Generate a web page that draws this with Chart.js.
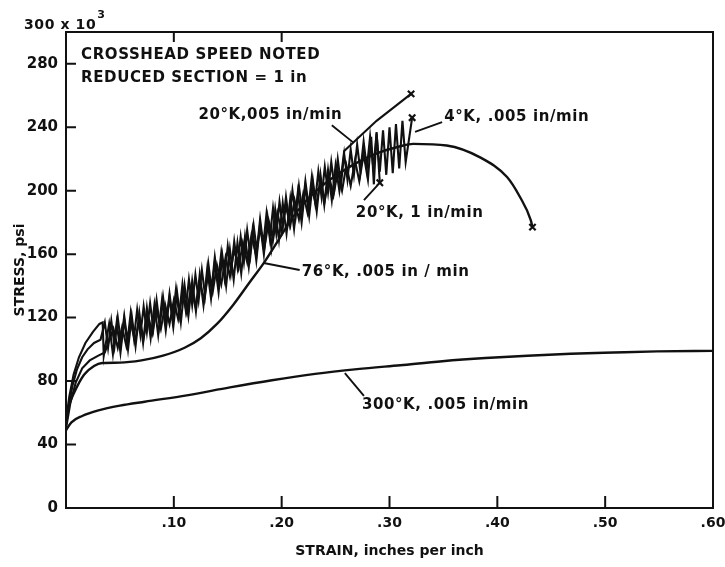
<!DOCTYPE html>
<html><head><meta charset="utf-8">
<script src="https://cdn.jsdelivr.net/npm/chart.js@4.4.0/dist/chart.umd.min.js"></script>
<style>html,body{margin:0;padding:0;background:#fff}#wrap{width:725px;height:567px}</style>
</head><body><div id="wrap"><canvas id="c" width="725" height="567"></canvas></div>
<script>
// ---------------- DATA ----------------
const xTickValues = [0, 0.1, 0.2, 0.3, 0.4, 0.5, 0.6];
const xTickLabels = ['', '.10', '.20', '.30', '.40', '.50', '.60'];
const topTickValues = [0.1, 0.2];
const yTickValues = [0, 40, 80, 120, 160, 200, 240, 280];
const yTickLabels = ['0', '40', '80', '120', '160', '200', '240', '280'];

// 300 K, .005 in/min
const k300Strain = [0, 0.005, 0.015, 0.03, 0.05, 0.073, 0.112, 0.152, 0.191, 0.231, 0.27, 0.31, 0.349, 0.389, 0.428, 0.468, 0.508, 0.548, 0.6];
const k300Stress = [49, 54, 58, 61.5, 64.5, 67, 71, 76, 80.5, 84.5, 87.5, 90, 92.5, 94.5, 96, 97.2, 98, 98.7, 99];

// 76 K, .005 in/min
const k76Strain = [0, 0.003, 0.0074, 0.0167, 0.026, 0.0335, 0.05, 0.07, 0.09, 0.11, 0.125, 0.14, 0.155, 0.17, 0.184, 0.198, 0.21, 0.226, 0.245, 0.263, 0.2865, 0.31, 0.322, 0.353, 0.384, 0.409, 0.421, 0.431, 0.4326];
const k76Stress = [55.5, 65, 72.5, 84, 89.5, 91.4, 91.6, 93, 96, 101, 107, 116, 128, 142, 155, 170, 183, 196, 207, 215, 223, 228, 229.5, 228.5, 221, 208.6, 196, 181.5, 177];

// 4 K, .005 in/min (serrated)
const k4Strain = [0, 0.003, 0.006, 0.010, 0.015, 0.020, 0.026, 0.032,
  0.036, 0.039, 0.042, 0.045, 0.048, 0.051, 0.054, 0.057, 0.060, 0.063, 0.066, 0.069,
  0.072, 0.075, 0.078, 0.081, 0.084, 0.087, 0.090, 0.093, 0.096, 0.099, 0.102, 0.105,
  0.108, 0.111, 0.114, 0.117, 0.120, 0.123, 0.126, 0.129, 0.132, 0.135, 0.138, 0.141,
  0.144, 0.147, 0.150, 0.153, 0.156, 0.159, 0.162, 0.165, 0.168, 0.171, 0.174, 0.177,
  0.180, 0.183, 0.186, 0.189, 0.192, 0.195, 0.198, 0.201, 0.204, 0.207, 0.210, 0.213,
  0.216, 0.219, 0.222, 0.225, 0.228, 0.231, 0.234, 0.237, 0.240, 0.243, 0.246, 0.249,
  0.252, 0.255, 0.258, 0.261, 0.264, 0.267, 0.270, 0.273, 0.276, 0.279, 0.282, 0.285,
  0.288, 0.291, 0.294, 0.297, 0.300, 0.303, 0.306, 0.309, 0.312, 0.315, 0.321];
const k4Stress = [52, 66, 77, 87, 95, 100, 104, 106,
  117, 101, 118, 102, 120, 104, 121, 105, 123, 107, 125, 109,
  127, 111, 129, 113, 131, 115, 133, 117, 135, 119, 138, 122,
  141, 125, 144, 128, 147, 131, 150, 134, 154, 138, 158, 142,
  161, 145, 165, 149, 168, 152, 171, 155, 175, 159, 178, 162,
  182, 166, 186, 170, 189, 173, 193, 177, 196, 180, 200, 184,
  203, 187, 206, 190, 209, 193, 212, 196, 215, 199, 218, 202,
  220, 204, 223, 207, 226, 210, 229, 212, 231, 214, 234, 214,
  236, 212, 238, 210, 240, 211, 242, 214, 244, 218, 246];

// 20 K, .005 in/min (serrated, then smooth to fracture)
const k20SlowStrain = [0, 0.003, 0.007, 0.012, 0.018, 0.025, 0.031, 0.034, 0.035,
  0.040, 0.0435, 0.047, 0.0505, 0.054, 0.0575, 0.061, 0.0645, 0.068, 0.0715, 0.075, 0.0785,
  0.082, 0.0855, 0.089, 0.0925, 0.096, 0.0995, 0.103, 0.1065, 0.110, 0.1135, 0.117, 0.1205,
  0.124, 0.1275, 0.131, 0.1345, 0.138, 0.1415, 0.145, 0.1485, 0.152, 0.1555, 0.159, 0.1625,
  0.166, 0.1695, 0.173, 0.1765, 0.180, 0.1835, 0.187, 0.1905, 0.194, 0.1975, 0.201, 0.2045,
  0.208, 0.2115, 0.215, 0.2185, 0.222, 0.2255, 0.229, 0.2325, 0.236, 0.2395, 0.243, 0.2465,
  0.250, 0.2535, 0.258, 0.288, 0.320];
const k20SlowStress = [55, 70, 84, 95, 104, 111, 116, 117, 96,
  116, 97, 117, 98, 119, 100, 121, 102, 123, 104, 126, 107,
  128, 109, 131, 112, 133, 114, 136, 117, 140, 121, 143, 124,
  147, 128, 151, 132, 155, 136, 159, 140, 163, 144, 167, 148,
  171, 152, 175, 156, 179, 160, 183, 164, 188, 169, 192, 173,
  195, 176, 199, 180, 203, 184, 206, 187, 210, 191, 213, 194,
  216, 200, 225, 244, 261];

// 20 K, 1 in/min (serrated)
const k20FastStrain = [0, 0.004, 0.009, 0.015, 0.022, 0.030, 0.036,
  0.044, 0.048, 0.052, 0.056, 0.060, 0.064, 0.068, 0.072, 0.076, 0.080, 0.084, 0.088,
  0.092, 0.096, 0.100, 0.104, 0.108, 0.112, 0.116, 0.120, 0.124, 0.128, 0.132, 0.136,
  0.140, 0.144, 0.148, 0.152, 0.156, 0.160, 0.164, 0.168, 0.172, 0.176, 0.180, 0.184,
  0.188, 0.192, 0.196, 0.200, 0.204, 0.208, 0.212, 0.216, 0.220, 0.224, 0.228, 0.232,
  0.236, 0.240, 0.244, 0.248, 0.252, 0.256, 0.260, 0.264, 0.268, 0.272, 0.276, 0.280,
  0.283, 0.2855, 0.288, 0.291];
const k20FastStress = [50, 66, 79, 88, 93, 96, 98,
  113, 101, 114, 102, 117, 105, 119, 107, 122, 110, 125, 113,
  128, 116, 131, 119, 135, 123, 139, 127, 143, 131, 148, 136,
  153, 141, 158, 146, 163, 151, 167, 155, 172, 160, 176, 164,
  181, 169, 186, 174, 190, 178, 194, 182, 198, 186, 202, 190,
  206, 194, 209, 197, 212, 200, 216, 203, 219, 206, 223, 207,
  234, 204, 237, 205];

// ---------------- LAYOUT / STYLE ----------------
const FONT = '"DejaVu Sans", "Liberation Sans", sans-serif';
const INK = '#111111';
const labelNotes = [
  {text: 'CROSSHEAD SPEED NOTED', x: 0.014, y: 285.4},
  {text: 'REDUCED SECTION = 1 in', x: 0.014, y: 271},
  {text: '20°K,005 in/min', x: 0.1228, y: 247.6},
  {text: '4°K, .005 in/min', x: 0.3507, y: 246.4},
  {text: '20°K, 1 in/min', x: 0.2688, y: 185.9},
  {text: '76°K, .005 in / min', x: 0.2186, y: 148.7},
  {text: '300°K, .005 in/min', x: 0.2744, y: 64.9}
];
const leaderLines = [
  [0.2465, 241.3, 0.266, 230.6],
  [0.3237, 237, 0.3488, 243.2],
  [0.2763, 194, 0.2884, 203],
  [0.1833, 154.4, 0.2167, 150],
  [0.2586, 85, 0.2763, 70.6]
];

function pts(xs, ys) { return xs.map((v, i) => ({x: v, y: ys[i]})); }
function last(xs, ys) { return {x: xs[xs.length - 1], y: ys[ys.length - 1]}; }

const smooth = {borderColor: INK, backgroundColor: INK, borderWidth: 2.4, pointRadius: 0, showLine: true, fill: false, cubicInterpolationMode: 'monotone'};
const jagged = {borderColor: INK, backgroundColor: INK, borderWidth: 2.1, pointRadius: 0, showLine: true, fill: false, tension: 0, borderJoinStyle: 'miter'};

const datasets = [
  Object.assign({label: '300°K, .005 in/min', data: pts(k300Strain, k300Stress)}, smooth),
  Object.assign({label: '76°K, .005 in/min', data: pts(k76Strain, k76Stress)}, smooth),
  Object.assign({label: '4°K, .005 in/min', data: pts(k4Strain, k4Stress)}, jagged),
  Object.assign({label: '20°K, .005 in/min', data: pts(k20SlowStrain, k20SlowStress)}, jagged),
  Object.assign({label: '20°K, 1 in/min', data: pts(k20FastStrain, k20FastStress)}, jagged),
  {label: 'fracture', data: [last(k76Strain, k76Stress), last(k4Strain, k4Stress), last(k20SlowStrain, k20SlowStress), last(k20FastStrain, k20FastStress)],
   showLine: false, pointStyle: 'crossRot', pointRadius: 4.5, borderWidth: 2.2, borderColor: INK, backgroundColor: INK}
];

const deco = {
  id: 'deco',
  afterDatasetsDraw(chart) {
    const {ctx, chartArea: a, scales: {x, y}} = chart;
    ctx.save();
    ctx.strokeStyle = INK; ctx.lineWidth = 2;
    ctx.strokeRect(a.left, a.top, a.right - a.left, a.bottom - a.top);
    ctx.beginPath();
    yTickValues.forEach(v => { if (v === 0) return; const py = y.getPixelForValue(v); ctx.moveTo(a.left, py); ctx.lineTo(a.left + 10, py); });
    xTickValues.forEach(v => { if (v === 0) return; const px = x.getPixelForValue(v); ctx.moveTo(px, a.bottom); ctx.lineTo(px, a.bottom - 12); });
    topTickValues.forEach(v => { const px = x.getPixelForValue(v); ctx.moveTo(px, a.top); ctx.lineTo(px, a.top + 10); });
    ctx.stroke();
    ctx.lineWidth = 1.9;
    ctx.beginPath();
    leaderLines.forEach(l => {
      ctx.moveTo(x.getPixelForValue(l[0]), y.getPixelForValue(l[1]));
      ctx.lineTo(x.getPixelForValue(l[2]), y.getPixelForValue(l[3]));
    });
    ctx.stroke();
    ctx.fillStyle = INK;
    ctx.font = 'bold 15px ' + FONT;
    if ('letterSpacing' in ctx) ctx.letterSpacing = '0.6px';
    ctx.textAlign = 'left'; ctx.textBaseline = 'middle';
    labelNotes.forEach(n => ctx.fillText(n.text, x.getPixelForValue(n.x), y.getPixelForValue(n.y)));
    // axis multiplier at top of stress axis
    ctx.textBaseline = 'alphabetic';
    ctx.font = 'bold 14px ' + FONT;
    const base = '300 x 10';
    ctx.fillText(base, 24, 29);
    const w = ctx.measureText(base).width;
    ctx.font = 'bold 11px ' + FONT;
    ctx.fillText('3', 24 + w + 1, 18);
    ctx.restore();
  }
};

new Chart(document.getElementById('c'), {
  type: 'scatter',
  data: {datasets},
  plugins: [deco],
  options: {
    responsive: false,
    animation: false,
    layout: {padding: {left: 0, right: 0, top: 32, bottom: 0}},
    plugins: {legend: {display: false}, tooltip: {enabled: false}, title: {display: false}},
    scales: {
      x: {
        type: 'linear', min: 0, max: 0.6,
        afterBuildTicks: s => { s.ticks = xTickValues.map(v => ({value: v})); },
        afterFit: s => { s.height = 59; s.paddingLeft = 0; s.paddingRight = 12; },
        grid: {display: false, drawTicks: false},
        border: {display: false},
        ticks: {padding: 7, color: INK, font: {family: FONT, size: 14, weight: 'bold'}, maxRotation: 0,
          callback: (v) => { const i = xTickValues.findIndex(t => Math.abs(t - v) < 1e-9); return i >= 0 ? xTickLabels[i] : ''; }},
        title: {display: true, text: 'STRAIN, inches per inch', color: INK, font: {family: FONT, size: 14, weight: 'bold'}, padding: {top: 0, bottom: 7}}
      },
      y: {
        type: 'linear', min: 0, max: 300,
        afterBuildTicks: s => { s.ticks = yTickValues.map(v => ({value: v})); },
        afterFit: s => { s.width = 66; s.paddingTop = 0; s.paddingBottom = 0; },
        grid: {display: false, drawTicks: false},
        border: {display: false},
        ticks: {padding: 8, color: INK, font: {family: FONT, size: 15, weight: 'bold'},
          callback: (v) => { const i = yTickValues.indexOf(v); return i >= 0 ? yTickLabels[i] : ''; }},
        title: {display: true, text: 'STRESS, psi', color: INK, font: {family: FONT, size: 14, weight: 'bold'}, padding: {top: 12, bottom: 0}}
      }
    }
  }
});
</script>
</body></html>
